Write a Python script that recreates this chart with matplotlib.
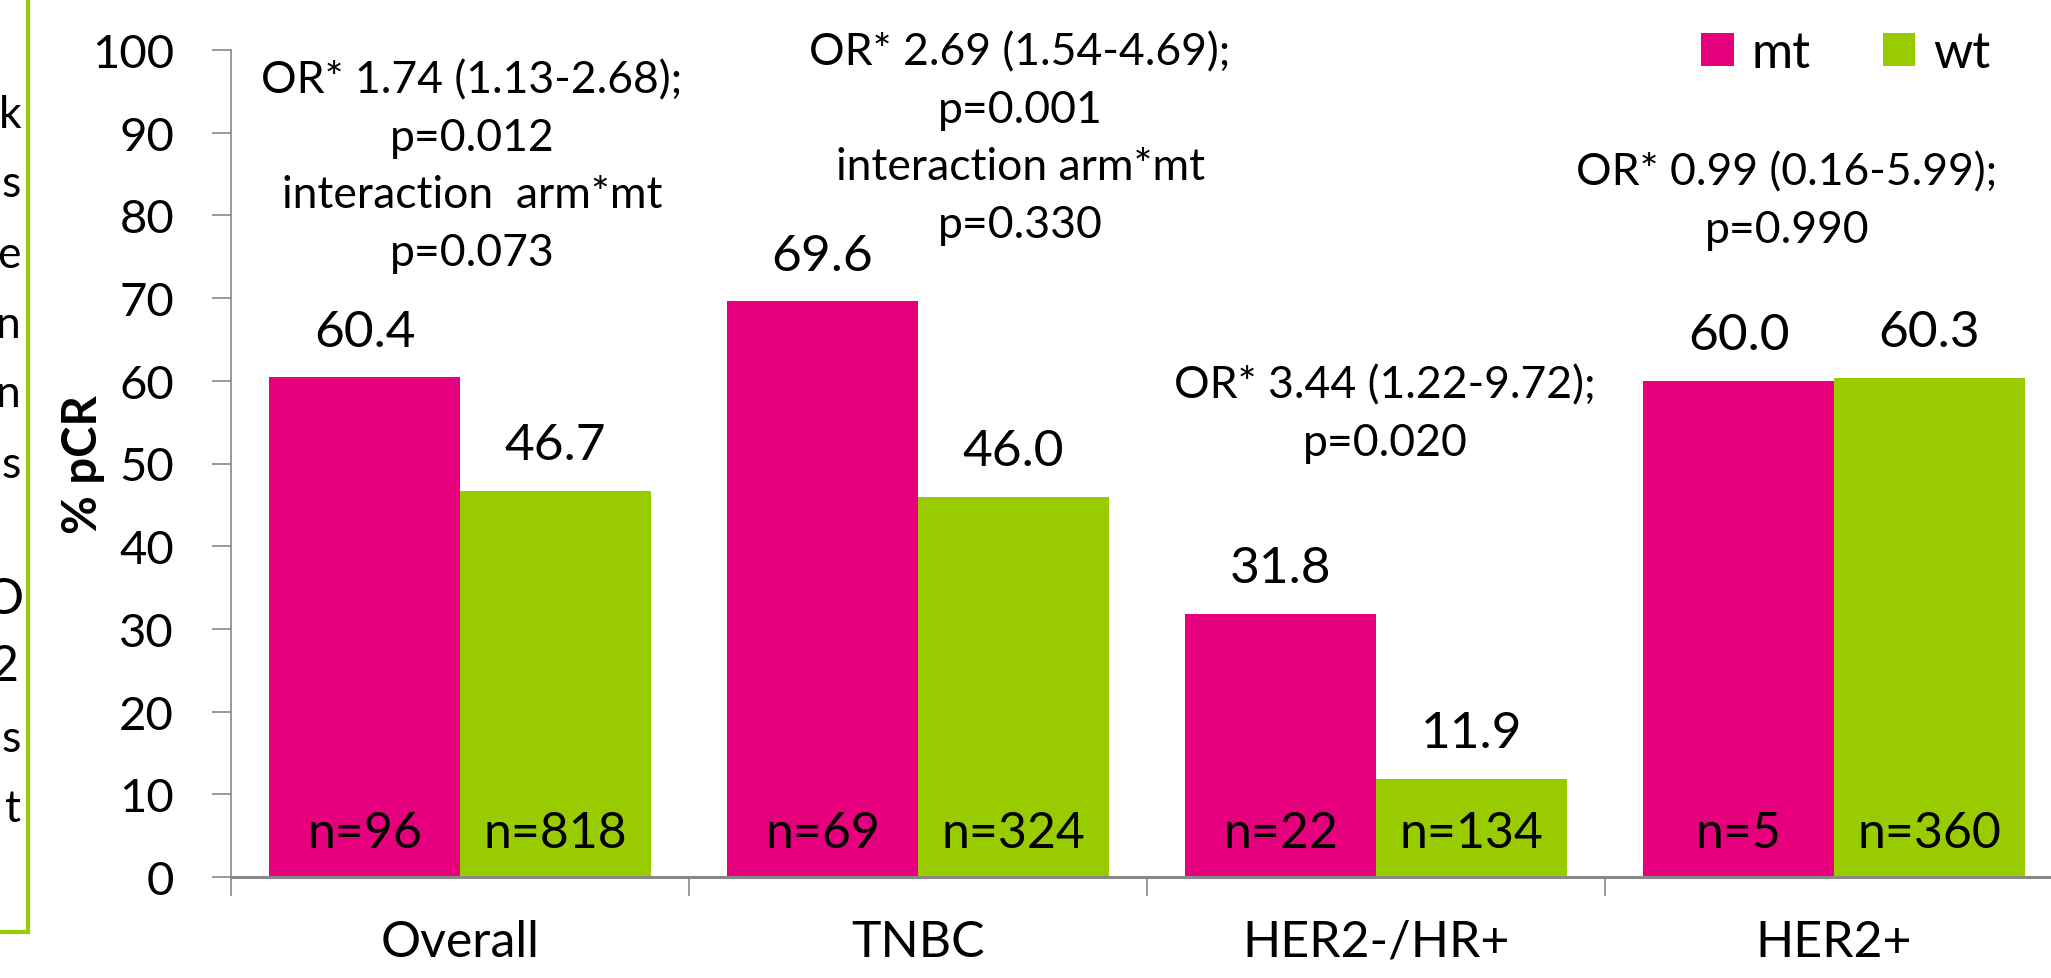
import matplotlib
matplotlib.use("Agg")
import matplotlib.pyplot as plt
import numpy as np

plt.rcParams['font.family'] = ['Lato', 'DejaVu Sans']

categories = ["Overall", "TNBC", "HER2-/HR+", "HER2+"]
mt_values = [60.4, 69.6, 31.8, 60.0]
wt_values = [46.7, 46.0, 11.9, 60.3]
mt_n = [96, 69, 22, 5]
wt_n = [818, 324, 134, 360]
odds_notes = [
    "OR* 1.74 (1.13-2.68);\np=0.012\ninteraction  arm*mt\np=0.073",
    "OR* 2.69 (1.54-4.69);\np=0.001\ninteraction arm*mt\np=0.330",
    "OR* 3.44 (1.22-9.72);\np=0.020",
    "OR* 0.99 (0.16-5.99);\np=0.990",
]
# where each note sits (x offset from category centre, y centre in % units)
note_x = [0.026, 0.223, 0.02, -0.103]
note_y = [86.0, 89.4, 56.0, 81.8]
# clipped letters from a neighbouring text box on the slide
box_letters = ["k", "s", "e", "n", "n", "s", "", "O", "2", "s", "t"]
box_letter_y = [115, 185, 255, 325, 395, 466, 540, 600, 667, 740, 810]

pink = '#E6007E'
green = '#99CC00'

fig = plt.figure(figsize=(20.51, 9.79), dpi=100)
ax = fig.add_axes([231/2051, 101/979, 1832/2051, 827/979])

x = np.arange(len(categories))
w = 0.417
b1 = ax.bar(x - w/2, mt_values, w, color=pink, label='mt')
b2 = ax.bar(x + w/2, wt_values, w, color=green, label='wt')

for xi, v in zip(x - w/2, mt_values):
    ax.annotate(f"{v:.1f}", (xi, v), xytext=(0, 33), textcoords='offset points',
                ha='center', va='center', fontsize=37)
for xi, v in zip(x + w/2, wt_values):
    ax.annotate(f"{v:.1f}", (xi, v), xytext=(0, 33), textcoords='offset points',
                ha='center', va='center', fontsize=37)
for xi, n in zip(x - w/2, mt_n):
    ax.annotate(f"n={n}", (xi, 0), xytext=(0, 32), textcoords='offset points',
                ha='center', va='center', fontsize=36)
for xi, n in zip(x + w/2, wt_n):
    ax.annotate(f"n={n}", (xi, 0), xytext=(0, 32), textcoords='offset points',
                ha='center', va='center', fontsize=36)

for xi, dx, yy, txt in zip(x, note_x, note_y, odds_notes):
    ax.text(xi + dx, yy, txt, ha='center', va='center', multialignment='center',
            fontsize=32, linespacing=1.5)

ax.set_xlim(-0.5, len(categories) - 0.5)
ax.set_ylim(0, 100)
ax.set_yticks(np.arange(0, 101, 10))
ax.set_xticks(x)
ax.set_xticklabels(categories, fontsize=36)
ax.set_xticks(np.arange(-0.5, len(categories)), minor=True)
ax.tick_params(axis='x', which='major', length=0, pad=30)
ax.tick_params(axis='x', which='minor', length=14, width=1.2, color='#888888', direction='out')
ax.tick_params(axis='y', labelsize=34, length=14, width=1.2, color='#888888', pad=27)

for s in ['top', 'right']:
    ax.spines[s].set_visible(False)
for s in ['left', 'bottom']:
    ax.spines[s].set_color('#888888')
ax.spines['left'].set_linewidth(1.2)
ax.spines['bottom'].set_linewidth(2.2)

ax.set_ylabel("% pCR", fontsize=34, fontweight='bold')
ax.yaxis.set_label_coords(-0.069, 0.5)

ax.legend(handles=[b1, b2], loc='upper right', bbox_to_anchor=(1990/2051, 1 - 31/979),
          bbox_transform=fig.transFigure, ncol=2, frameon=False, fontsize=36,
          handlelength=0.65, handleheight=0.65, handletextpad=0.35,
          columnspacing=1.45, borderaxespad=0, borderpad=0)

# partial text box on the left edge
fig.add_artist(plt.Line2D([28/2051, 28/2051], [1.0, 1 - 933/979], transform=fig.transFigure,
                          color=green, lw=3))
fig.add_artist(plt.Line2D([0, 28/2051], [1 - 933/979, 1 - 933/979], transform=fig.transFigure,
                          color=green, lw=3))
for ch, yp in zip(box_letters, box_letter_y):
    if ch in ("O", "2"):
        fig.text(4/2051, 1 - yp/979, ch, ha='center', va='center', fontsize=36)
    else:
        fig.text(21/2051, 1 - yp/979, ch, ha='right', va='center', fontsize=32)

fig.savefig("out.png", dpi=100)
